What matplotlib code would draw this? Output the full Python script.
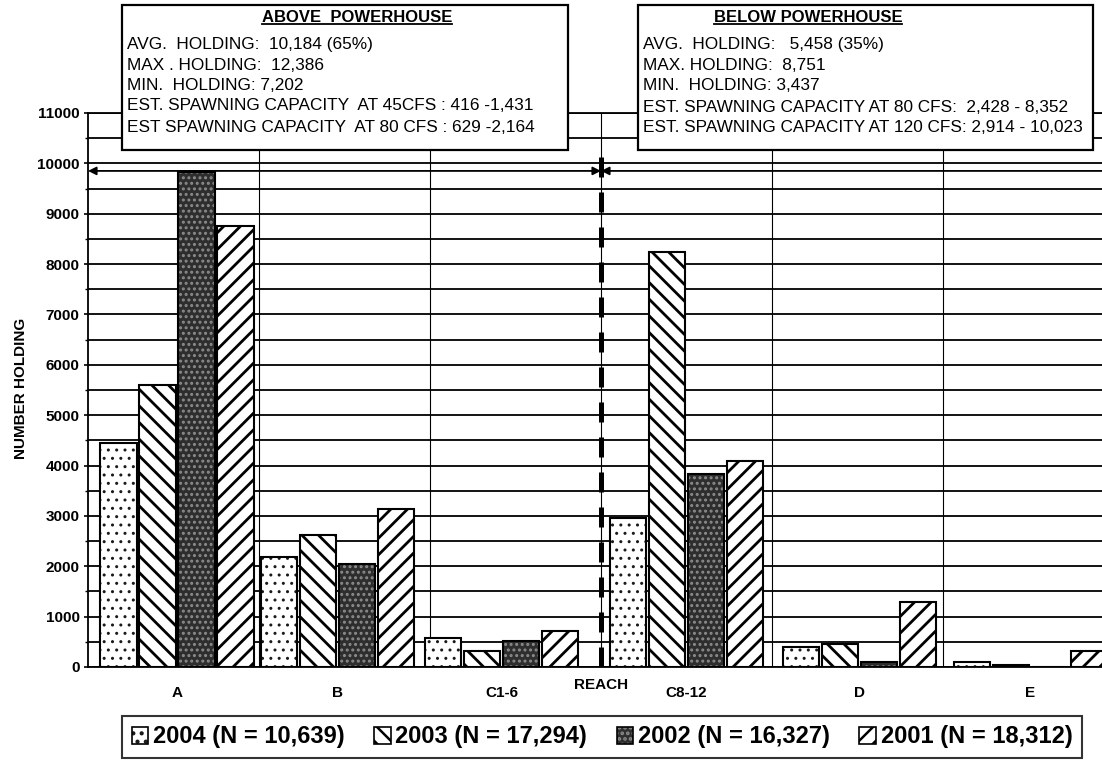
import matplotlib
matplotlib.use("Agg")
import matplotlib.pyplot as plt
from matplotlib.patches import Rectangle, Patch
from matplotlib.lines import Line2D
from matplotlib.legend_handler import HandlerTuple
from matplotlib.ticker import MultipleLocator, FixedLocator
import numpy as np

plt.rcParams["font.family"] = ["Liberation Sans", "DejaVu Sans"]
plt.rcParams["hatch.linewidth"] = 1.8

# ---- data -------------------------------------------------------------
reaches = ["A", "B", "C1-6", "C8-12", "D", "E"]
years = ["2004", "2003", "2002", "2001"]
year_totals = ["10,639", "17,294", "16,327", "18,312"]
holding_2004 = [4450, 2180, 580, 2950, 400, 90]
holding_2003 = [5600, 2620, 310, 8250, 460, 30]
holding_2002 = [9820, 2050, 520, 3830, 100, 0]
holding_2001 = [8750, 3140, 720, 4100, 1300, 310]
series = [holding_2004, holding_2003, holding_2002, holding_2001]

above_title = "ABOVE  POWERHOUSE"
above_lines = [
    "AVG.  HOLDING:  10,184 (65%)",
    "MAX . HOLDING:  12,386",
    "MIN.  HOLDING: 7,202",
    "EST. SPAWNING CAPACITY  AT 45CFS : 416 -1,431",
    "EST SPAWNING CAPACITY  AT 80 CFS : 629 -2,164",
]
below_title = "BELOW POWERHOUSE"
below_lines = [
    "AVG.  HOLDING:   5,458 (35%)",
    "MAX. HOLDING:  8,751",
    "MIN.  HOLDING: 3,437",
    "EST. SPAWNING CAPACITY AT 80 CFS:  2,428 - 8,352",
    "EST. SPAWNING CAPACITY AT 120 CFS: 2,914 - 10,023",
]

# ---- layout / styles ---------------------------------------------------
W, H = 1102, 763
group_centers = [0.52, 1.46, 2.42, 3.50, 4.51, 5.51]
bar_pitch = 0.228
bar_width = 0.212
styles = [
    dict(face="white", hatch="..", hcolor="#1a1a1a", hlw=1.0),
    dict(face="white", hatch="\\\\", hcolor="black", hlw=2.0),
    dict(face="#2e2e2e", hatch="...", hcolor="#8c8c8c", hlw=1.4),
    dict(face="white", hatch="//", hcolor="black", hlw=2.0),
]


def fx(px):
    return px / W


def fy(py):
    return 1 - py / H


def set_hlw(patch, lw):
    if hasattr(patch, "set_hatch_linewidth"):
        patch.set_hatch_linewidth(lw)


fig = plt.figure(figsize=(W / 100, H / 100), dpi=100)
ax = fig.add_axes([fx(88), fy(667), (1114 - 88) / W, (667 - 113) / H])
ax.set_xlim(0, 6)
ax.set_ylim(0, 11000)

# grid: every 500 horizontally, reach boundaries vertically
ax.yaxis.set_major_locator(MultipleLocator(1000))
ax.yaxis.set_minor_locator(MultipleLocator(500))
ax.xaxis.set_major_locator(FixedLocator(group_centers))
ax.xaxis.set_minor_locator(FixedLocator([1, 2, 3, 4, 5]))
ax.set_xticklabels(reaches)
ax.grid(axis="y", which="both", color="black", linewidth=1.3, zorder=1)
ax.grid(axis="x", which="minor", color="black", linewidth=0.8, zorder=1)
ax.set_axisbelow(True)

for j, (vals, st) in enumerate(zip(series, styles)):
    xs = np.array(group_centers) + (j - 1.5) * bar_pitch
    fills = ax.bar(xs, vals, bar_width, color=st["face"], edgecolor=st["hcolor"],
                   linewidth=0, hatch=st["hatch"], zorder=3)
    for p in fills:
        set_hlw(p, st["hlw"])
    ax.bar(xs, vals, bar_width, fill=False, edgecolor="black", linewidth=1.5, zorder=4)

# powerhouse divider and reach-span arrows
ax.plot([3.0, 3.0], [0, 10350], color="black", linewidth=3.6, dashes=(4, 3),
        solid_capstyle="butt", dash_capstyle="butt", zorder=6)
for x0, x1 in [(0.0, 3.0), (3.0, 6.0)]:
    ax.annotate("", xy=(x0, 9850), xytext=(x1, 9850),
                arrowprops=dict(arrowstyle="<|-|>", color="black", lw=1.3,
                                mutation_scale=12, shrinkA=0, shrinkB=0),
                zorder=6)

for s in ax.spines.values():
    s.set_color("black")
    s.set_linewidth(1.3)

ax.tick_params(axis="y", which="major", direction="out", length=3, width=1.2, pad=3,
               labelsize=11)
ax.tick_params(axis="y", which="minor", direction="out", length=2, width=1.0)
ax.tick_params(axis="x", which="both", length=0, pad=14, labelsize=11)
for lab in ax.get_yticklabels() + ax.get_xticklabels():
    lab.set_fontweight("bold")

ax.text(3.0, -0.032, "REACH", transform=ax.get_xaxis_transform(), ha="center",
        va="center", fontsize=11, fontweight="bold")
fig.text(fx(21), fy(388), "NUMBER HOLDING", rotation=90, ha="center", va="center",
         fontsize=11, fontweight="bold")

# ---- summary boxes ------------------------------------------------------
def summary_box(x0, x1, title, title_x, lines, text_x, line_ys):
    fig.add_artist(Rectangle((fx(x0), fy(150)), (x1 - x0) / W, (150 - 5) / H,
                             transform=fig.transFigure, facecolor="white",
                             edgecolor="black", linewidth=1.6, zorder=10))
    t = fig.text(fx(title_x), fy(18), title, ha="center", va="center", fontsize=12,
                 fontweight="bold", zorder=11)
    for line, yy in zip(lines, line_ys):
        fig.text(fx(text_x), fy(yy), line, ha="left", va="center", fontsize=12.4,
                 zorder=11)
    return t


t_above = summary_box(122, 568, above_title, 357, above_lines, 127,
                      [45, 65, 86, 106, 127])
t_below = summary_box(638, 1093, below_title, 808, below_lines, 643,
                      [45, 65, 86, 107, 128])

# ---- legend ------------------------------------------------------------
handles = []
for st in styles:
    fill = Patch(facecolor=st["face"], edgecolor=st["hcolor"], hatch=st["hatch"],
                 linewidth=0)
    set_hlw(fill, min(st["hlw"], 1.2))
    outline = Patch(facecolor="none", edgecolor="black", linewidth=1.2)
    handles.append((fill, outline))
labels = [f"{y} (N = {n})" for y, n in zip(years, year_totals)]
leg = fig.legend(handles, labels, loc="center", bbox_to_anchor=(fx(602), fy(737)),
                 ncol=4, handler_map={tuple: HandlerTuple(ndivide=1, pad=0)},
                 prop=dict(size=17, weight="bold"), frameon=True, fancybox=False,
                 edgecolor="black", handlelength=0.7, handleheight=0.7,
                 handletextpad=0.2, columnspacing=1.25, borderpad=0.4)
leg.get_frame().set_linewidth(1.5)

# underline the box titles
fig.canvas.draw()
renderer = fig.canvas.get_renderer()
for t in (t_above, t_below):
    bb = t.get_window_extent(renderer)
    yline = (bb.y0 + 1.5) / H
    fig.add_artist(Line2D([bb.x0 / W, bb.x1 / W], [yline, yline],
                          transform=fig.transFigure, color="black", linewidth=1.3,
                          zorder=12))

fig.savefig("out.png", dpi=100)
